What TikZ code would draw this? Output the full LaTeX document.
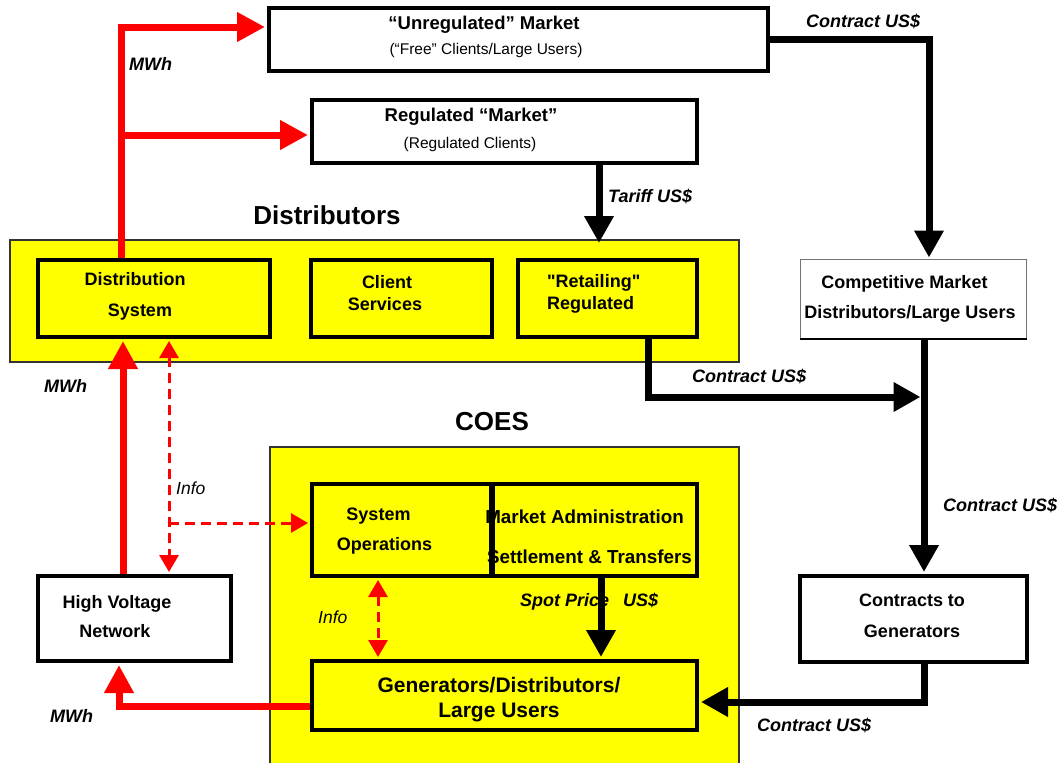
\documentclass[tikz,border=0pt]{standalone}
\usepackage{fontspec}
\setmainfont{Liberation Sans}[Ligatures=TeXOff]
\usetikzlibrary{arrows.meta,calc}
\definecolor{ylw}{RGB}{255,255,0}
\definecolor{rd}{RGB}{255,0,0}
\newcommand\fsz[1]{\fontsize{#1}{#1}\selectfont}
\begin{document}
\begin{tikzpicture}[x=1pt,y=-1pt,
  boxln/.style={draw=black,line width=4pt,inner sep=0pt},
  ybox/.style={boxln,fill=ylw},
  wbox/.style={boxln,fill=white},
  band/.style={draw=black!80,line width=1.2pt,fill=ylw,inner sep=0pt},
  txt/.style={inner sep=0pt,anchor=base,font=\fsz{18}\bfseries},
  sub/.style={inner sep=0pt,anchor=base,font=\fsz{15.5}},
  ttl/.style={inner sep=0pt,anchor=base,font=\fsz{26}\bfseries},
  lab/.style={inner sep=0pt,anchor=base west,font=\fsz{18}\bfseries\itshape},
  info/.style={inner sep=0pt,anchor=base west,font=\fsz{17.5}\itshape},
  redarr/.style={draw=rd,line width=7pt,line join=miter,-{Triangle[length=28pt,width=28pt]}},
  reddash/.style={draw=rd,line width=3pt,dash pattern=on 10pt off 6pt},
  blkarr/.style={draw=black,line width=7pt,line join=miter,-{Triangle[length=27pt,width=28pt]}}
]
\useasboundingbox (0,0) rectangle (1063,763);
\fill[white] (0,0) rectangle (1063,763);

% bands
\node[band,minimum width=729pt,minimum height=122pt] (DistBand) at (374.5,301) {};
\node[band,minimum width=469pt,minimum height=318pt] (CoesBand) at (504.5,606) {};

% boxes
\node[wbox,minimum width=499pt,minimum height=63pt] (Unreg) at (518.5,39.5) {};
\node[wbox,minimum width=385pt,minimum height=63pt] (Reg) at (504.5,131.5) {};
\node[ybox,minimum width=232pt,minimum height=77pt] (DistSys) at (154,298.5) {};
\node[ybox,minimum width=181pt,minimum height=77pt] (Client) at (401.5,298.5) {};
\node[ybox,minimum width=179pt,minimum height=77pt] (Retail) at (607.5,298.5) {};
\node[draw=black!55,line width=1pt,fill=white,inner sep=0pt,minimum width=226pt,minimum height=79pt] (Compet) at (913,298.5) {};
\draw[line width=2pt] (Compet.south west) -- (Compet.south east);
\node[ybox,minimum width=206pt,minimum height=92pt] (MktAdm) at (594,530) {};
\node[ybox,minimum width=179pt,minimum height=92pt] (SysOps) at (401.5,530) {};
\node[ybox,minimum width=385pt,minimum height=69pt] (Gen) at (504.5,695.5) {};
\node[wbox,minimum width=193pt,minimum height=85pt] (HVN) at (134.5,618.5) {};
\node[wbox,minimum width=227pt,minimum height=86pt] (Contracts) at (913.5,619) {};

% texts
\node[txt,font=\fsz{18.5}\bfseries] (tUnreg) at (484,29) {“Unregulated” Market};
\node[sub] (tUnregSub) at (486,54) {(“Free” Clients/Large Users)};
\node[txt,font=\fsz{18.5}\bfseries] (tReg) at (471,121) {Regulated “Market”};
\node[sub] (tRegSub) at (470,148) {(Regulated Clients)};
\node[ttl] (tDist) at (327,224) {Distributors};
\node[ttl] (tCoes) at (492,430) {COES};
\node[txt] (tDS1) at (135,285) {Distribution};
\node[txt] (tDS2) at (140,316) {System};
\node[txt] (tCS1) at (387,288) {Client};
\node[txt] (tCS2) at (385,310) {Services};
\node[txt,anchor=base west] (tRR1) at (547,287) {"Retailing"};
\node[txt,anchor=base west] (tRR2) at (547,309) {Regulated};
\node[txt] (tCM1) at (904.5,288) {Competitive Market};
\node[txt] (tCM2) at (910,318) {Distributors/Large Users};
\node[txt] (tSO1) at (378.5,520) {System};
\node[txt] (tSO2) at (384.5,550) {Operations};
\node[txt,anchor=base east,font=\fsz{18.8}\bfseries] (tMA1) at (684,523) {Market Administration};
\node[txt,anchor=base east,font=\fsz{18.8}\bfseries] (tMA2) at (692,563) {Settlement \& Transfers};
\draw[line width=4pt] (SysOps.north east) -- (SysOps.south east);
\node[txt,font=\fsz{21}\bfseries] (tG1) at (499,692) {Generators/Distributors/};
\node[txt,font=\fsz{21}\bfseries] (tG2) at (499,717) {Large Users};
\node[txt] (tHV1) at (117,608) {High Voltage};
\node[txt] (tHV2) at (115,637) {Network};
\node[txt] (tCG1) at (912,606) {Contracts to};
\node[txt] (tCG2) at (912,637) {Generators};

\node[lab] (lC1) at (806,27) {Contract US\$};
\node[lab] (lT) at (608,202) {Tariff US\$};
\node[lab] (lC2) at (692,382) {Contract US\$};
\node[lab] (lC3) at (943,511) {Contract US\$};
\node[lab] (lC4) at (757,731) {Contract US\$};
\node[lab] (lSP) at (520,606) {Spot Price\hspace{14pt}US\$};
\node[lab] (lM1) at (129,70) {MWh};
\node[lab] (lM2) at (44,392) {MWh};
\node[lab] (lM3) at (50,722) {MWh};
\node[info] (lI1) at (176,494) {Info};
\node[info] (lI2) at (318,623) {Info};

% red connectors
\coordinate (r1) at (121,27);
\coordinate (r2) at (121,135);
\draw[redarr,shorten >=2pt] (DistSys.north -| r1) -- (r1) -- (Unreg.west |- r1);
\draw[redarr,shorten >=2pt] (r2) -- (Reg.west |- r2);
\coordinate (rh) at (123,0);
\draw[redarr,shorten >=2pt] (HVN.north -| rh) -- (DistSys.south -| rh);
\coordinate (rg) at (119,706);
\draw[redarr,shorten >=2pt] (Gen.west |- rg) -- (rg) -- (HVN.south -| rg);

% dashed info connectors
\coordinate (d1) at (169,523);
\draw[reddash,{Triangle[length=17pt,width=19pt]}-{Triangle[length=17pt,width=19pt]},shorten <=2pt,shorten >=2pt] (DistSys.south -| d1) -- (HVN.north -| d1);
\draw[reddash,-{Triangle[length=17pt,width=19pt]},shorten >=2pt] (d1) -- (SysOps.west |- d1);
\coordinate (d2) at (378,0);
\draw[reddash,{Triangle[length=17pt,width=19pt]}-{Triangle[length=17pt,width=19pt]},shorten <=2pt,shorten >=2pt] (SysOps.south -| d2) -- (Gen.north -| d2);

% black connectors
\coordinate (b1) at (929,39.5);
\draw[blkarr,shorten >=1pt] (Unreg.east) -- (b1) -- (Compet.north -| b1);
\coordinate (b2) at (599,0);
\draw[blkarr,shorten >=15pt] (Reg.south -| b2) -- (Retail.north -| b2);
\coordinate (b3) at (648,397);
\coordinate (b4) at (924,0);
\draw[blkarr,shorten >=3.5pt] (Retail.south -| b3) -- (b3) -- (b3 -| b4);
\draw[blkarr,shorten >=2pt] (Compet.south -| b4) -- (Contracts.north -| b4);
\coordinate (b5) at (924,702);
\draw[blkarr,shorten >=2pt] (Contracts.south -| b5) -- (b5) -- (Gen.east |- b5);
\coordinate (b6) at (601,0);
\draw[blkarr,shorten >=2pt] (MktAdm.south -| b6) -- (Gen.north -| b6);
\end{tikzpicture}
\end{document}
